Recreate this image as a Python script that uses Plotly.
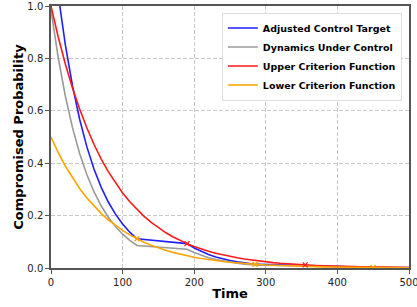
import plotly.graph_objects as go

# ---- data ----
time = [0, 10, 20, 30, 40, 50, 60, 70, 80, 90, 100, 110, 120, 130, 140, 150, 160, 170, 180, 190,
        200, 210, 220, 230, 240, 250, 260, 270, 280, 285, 290, 300, 310, 320, 330, 340, 350, 355,
        360, 370, 380, 390, 400, 410, 420, 430, 440, 450, 460, 470, 480, 490, 500]

adjusted_target = [1.28, 1.0446, 0.8525, 0.6957, 0.5677, 0.4633, 0.3781, 0.3086, 0.2518, 0.2055,
                   0.1677, 0.1368, 0.1116, 0.1089, 0.1063, 0.1036, 0.1010, 0.0983, 0.0957, 0.0930,
                   0.0763, 0.0626, 0.0513, 0.0421, 0.0346, 0.0283, 0.0233, 0.0191, 0.0157, 0.0142,
                   0.0140, 0.0137, 0.0133, 0.0130, 0.0127, 0.0123, 0.0120, 0.0118,
                   0.0107, 0.0088, 0.0072, 0.0059, 0.0048, 0.0040, 0.0033, 0.0027, 0.0022, 0.0018,
                   0.00176, 0.00172, 0.00168, 0.00164, 0.0016]

dynamics = [0.9856, 0.8043, 0.6564, 0.5357, 0.4371, 0.3567, 0.2911, 0.2376, 0.1939, 0.1582,
            0.1291, 0.1053, 0.0859, 0.0839, 0.0819, 0.0798, 0.0778, 0.0757, 0.0737, 0.0716,
            0.0588, 0.0482, 0.0395, 0.0324, 0.0266, 0.0218, 0.0179, 0.0147, 0.0121, 0.0109,
            0.0108, 0.0105, 0.0102, 0.0100, 0.0098, 0.0095, 0.0092, 0.0091,
            0.0082, 0.0068, 0.0055, 0.0045, 0.0037, 0.0031, 0.0025, 0.0021, 0.0017, 0.0014,
            0.00136, 0.00132, 0.00129, 0.00126, 0.00123]

upper_criterion = [1.0, 0.8825, 0.7788, 0.6873, 0.6065, 0.5353, 0.4724, 0.4169, 0.3679, 0.3247,
                   0.2865, 0.2528, 0.2231, 0.1969, 0.1738, 0.1534, 0.1353, 0.1194, 0.1054, 0.0930,
                   0.0821, 0.0724, 0.0639, 0.0564, 0.0498, 0.0439, 0.0388, 0.0342, 0.0302, 0.0284,
                   0.0266, 0.0235, 0.0207, 0.0183, 0.0162, 0.0143, 0.0126, 0.0118,
                   0.0111, 0.0098, 0.0087, 0.0076, 0.0067, 0.0059, 0.0052, 0.0046, 0.0041, 0.0036,
                   0.0032, 0.0028, 0.0025, 0.0022, 0.0019]

lower_criterion = [0.5, 0.4412, 0.3894, 0.3436, 0.3033, 0.2676, 0.2362, 0.2084, 0.1839, 0.1623,
                   0.1433, 0.1264, 0.1116, 0.0985, 0.0869, 0.0767, 0.0677, 0.0597, 0.0527, 0.0465,
                   0.0410, 0.0362, 0.0319, 0.0282, 0.0249, 0.0220, 0.0194, 0.0171, 0.0151, 0.0142,
                   0.0133, 0.0117, 0.0104, 0.0092, 0.0081, 0.0071, 0.0063, 0.0059,
                   0.0055, 0.0049, 0.0043, 0.0038, 0.0034, 0.0030, 0.0026, 0.0023, 0.0020, 0.0018,
                   0.0016, 0.0014, 0.0012, 0.0011, 0.0009]

# switching events: time, value, criterion hit
event_times = [120, 190, 285, 355, 450]
event_values = [0.1116, 0.0930, 0.0142, 0.0118, 0.0018]
event_kind = ["lower", "upper", "lower", "upper", "lower"]

series_names = ["Adjusted Control Target", "Dynamics Under Control",
                "Upper Criterion Function", "Lower Criterion Function"]
x_ticks = [0, 100, 200, 300, 400, 500]
y_ticks = [0.0, 0.2, 0.4, 0.6, 0.8, 1.0]

# ---- styles ----
BLUE = "#1f1fff"
GRAY = "#9a9a9a"
RED = "#ff1a1a"
ORANGE = "#ffa500"
kind_color = {"upper": RED, "lower": ORANGE}

fig = go.Figure()
for name, ys, col in zip(series_names,
                         [adjusted_target, dynamics, upper_criterion, lower_criterion],
                         [BLUE, GRAY, RED, ORANGE]):
    fig.add_trace(go.Scatter(x=time, y=ys, mode="lines", name=f"<b>{name}</b>",
                             line=dict(color=col, width=1.6)))

fig.add_trace(go.Scatter(
    x=event_times, y=event_values, mode="markers", showlegend=False,
    marker=dict(symbol="x-thin", size=5,
                line=dict(width=1.3, color=[kind_color[k] for k in event_kind]))))

axis_common = dict(
    showline=True, linecolor="#555555", linewidth=1.5, mirror=True,
    ticks="outside", ticklen=4, tickcolor="#555555", tickwidth=1,
    showgrid=True, gridcolor="#c8c8c8", griddash="4px,2px", gridwidth=1,
    zeroline=False, automargin=False, ticklabeloverflow="allow",
    tickfont=dict(family="DejaVu Sans", size=10, color="#222222"),
)

fig.update_xaxes(range=[0, 500], tickvals=x_ticks,
                 ticktext=[str(v) for v in x_ticks],
                 title=dict(text="<b>Time</b>", standoff=2,
                            font=dict(family="DejaVu Sans", size=13, color="black")),
                 **axis_common)
fig.update_yaxes(range=[0, 1.0], tickvals=y_ticks,
                 ticktext=[f"{v:.1f}" for v in y_ticks],
                 title=dict(text="<b>Compromised Probability</b>", standoff=1,
                            font=dict(family="DejaVu Sans", size=13, color="black")),
                 **axis_common)

fig.update_layout(
    width=417, height=307,
    margin=dict(l=51, r=8, t=6, b=39, autoexpand=False),
    paper_bgcolor="white", plot_bgcolor="white",
    font=dict(family="DejaVu Sans"),
    legend=dict(x=0.98, y=0.975, xanchor="right", yanchor="top",
                bgcolor="rgba(255,255,255,0.9)", bordercolor="#dddddd", borderwidth=1,
                font=dict(family="DejaVu Sans", size=9.5, color="black"),
                itemwidth=30, tracegroupgap=0),
)

fig.write_html("out.html", config={"displayModeBar": False},
               post_script="document.body.style.margin='0px';")
